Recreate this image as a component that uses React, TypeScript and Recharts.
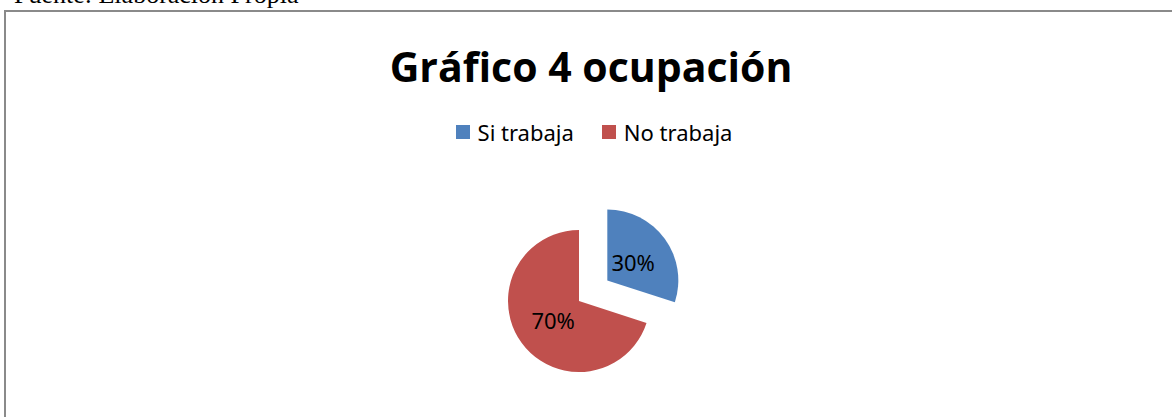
import { PieChart, Pie, Cell, Legend } from "recharts";

const categories = ["Si trabaja", "No trabaja"];
const values = [30, 70];
const colors = ["#4F81BD", "#C0504D"];
const chartTitle = "Gráfico 4 ocupación";
const sourceNote = "Fuente: Elaboración Propia";

const data = categories.map((name, i) => ({ name, value: values[i] }));

const RAD = Math.PI / 180;
const CX = 579;
const CY = 301;
const R = 71;
const EXPLODE = 35;

// the first slice is pulled out along its mid angle, like in Excel
const total = values.reduce((a, b) => a + b, 0);
const firstMid = 90 - ((values[0] / total) * 360) / 2;
const dx = EXPLODE * Math.cos(firstMid * RAD);
const dy = -EXPLODE * Math.sin(firstMid * RAD);

const makeLabel = (show: number) => (props: any) => {
  const { cx, cy, midAngle, outerRadius, percent, index } = props;
  if (index !== show) return <g />;
  const r = outerRadius * 0.45;
  const x = cx + r * Math.cos(-midAngle * RAD);
  const y = cy + r * Math.sin(-midAngle * RAD);
  return (
    <text
      x={x}
      y={y}
      fill="#000"
      textAnchor="middle"
      dominantBaseline="central"
      fontFamily="'Noto Sans', sans-serif"
      fontSize={22}
    >
      {`${Math.round(percent * 100)}%`}
    </text>
  );
};

const LegendBox = () => (
  <div
    style={{
      display: "flex",
      justifyContent: "center",
      gap: 28,
      fontFamily: "'Noto Sans', sans-serif",
      fontSize: 22,
      lineHeight: "26px",
      color: "#000",
      paddingLeft: 16,
    }}
  >
    {categories.map((c, i) => (
      <div key={c} style={{ display: "flex", alignItems: "center", gap: 8 }}>
        <span style={{ width: 14, height: 14, background: colors[i], display: "inline-block" }} />
        <span>{c}</span>
      </div>
    ))}
  </div>
);

export default function App() {
  return (
    <div
      style={{
        position: "fixed",
        left: 0,
        top: 0,
        width: 1172,
        height: 417,
        overflow: "hidden",
        background: "#fff",
      }}
    >
      <div
        style={{
          position: "absolute",
          left: 14,
          top: -18,
          fontFamily: "'Liberation Serif', 'Times New Roman', serif",
          fontSize: 26,
          lineHeight: "26px",
          whiteSpace: "nowrap",
        }}
      >
        {sourceNote}
      </div>
      <div
        style={{
          position: "absolute",
          left: 4,
          top: 10,
          width: 1200,
          height: 440,
          borderLeft: "2px solid #8a8a8a",
          borderTop: "2px solid #8a8a8a",
        }}
      />
      <div
        style={{
          position: "absolute",
          left: 0,
          top: 46,
          width: 1182,
          textAlign: "center",
          fontFamily: "'Open Sans', sans-serif",
          fontWeight: 700,
          fontSize: 41,
          lineHeight: "41px",
          whiteSpace: "nowrap",
        }}
      >
        {chartTitle}
      </div>
      <div style={{ position: "absolute", left: 0, top: 0 }}>
        <PieChart width={1172} height={417} margin={{ top: 0, right: 0, bottom: 0, left: 0 }}>
          <Legend
            layout="horizontal"
            verticalAlign="middle"
            align="center"
            wrapperStyle={{ top: 119, left: 0, width: 1172 }}
            content={() => <LegendBox />}
          />
          <Pie
            data={data}
            dataKey="value"
            nameKey="name"
            cx={CX}
            cy={CY}
            outerRadius={R}
            startAngle={90}
            endAngle={-270}
            stroke="none"
            labelLine={false}
            label={makeLabel(1)}
            isAnimationActive={false}
          >
            {data.map((d, i) => (
              <Cell key={d.name} fill={i === 1 ? colors[i] : "none"} />
            ))}
          </Pie>
          <Pie
            data={data}
            dataKey="value"
            nameKey="name"
            cx={CX + dx}
            cy={CY + dy}
            outerRadius={R}
            startAngle={90}
            endAngle={-270}
            stroke="none"
            labelLine={false}
            label={makeLabel(0)}
            isAnimationActive={false}
          >
            {data.map((d, i) => (
              <Cell key={d.name} fill={i === 0 ? colors[i] : "none"} />
            ))}
          </Pie>
        </PieChart>
      </div>
    </div>
  );
}
